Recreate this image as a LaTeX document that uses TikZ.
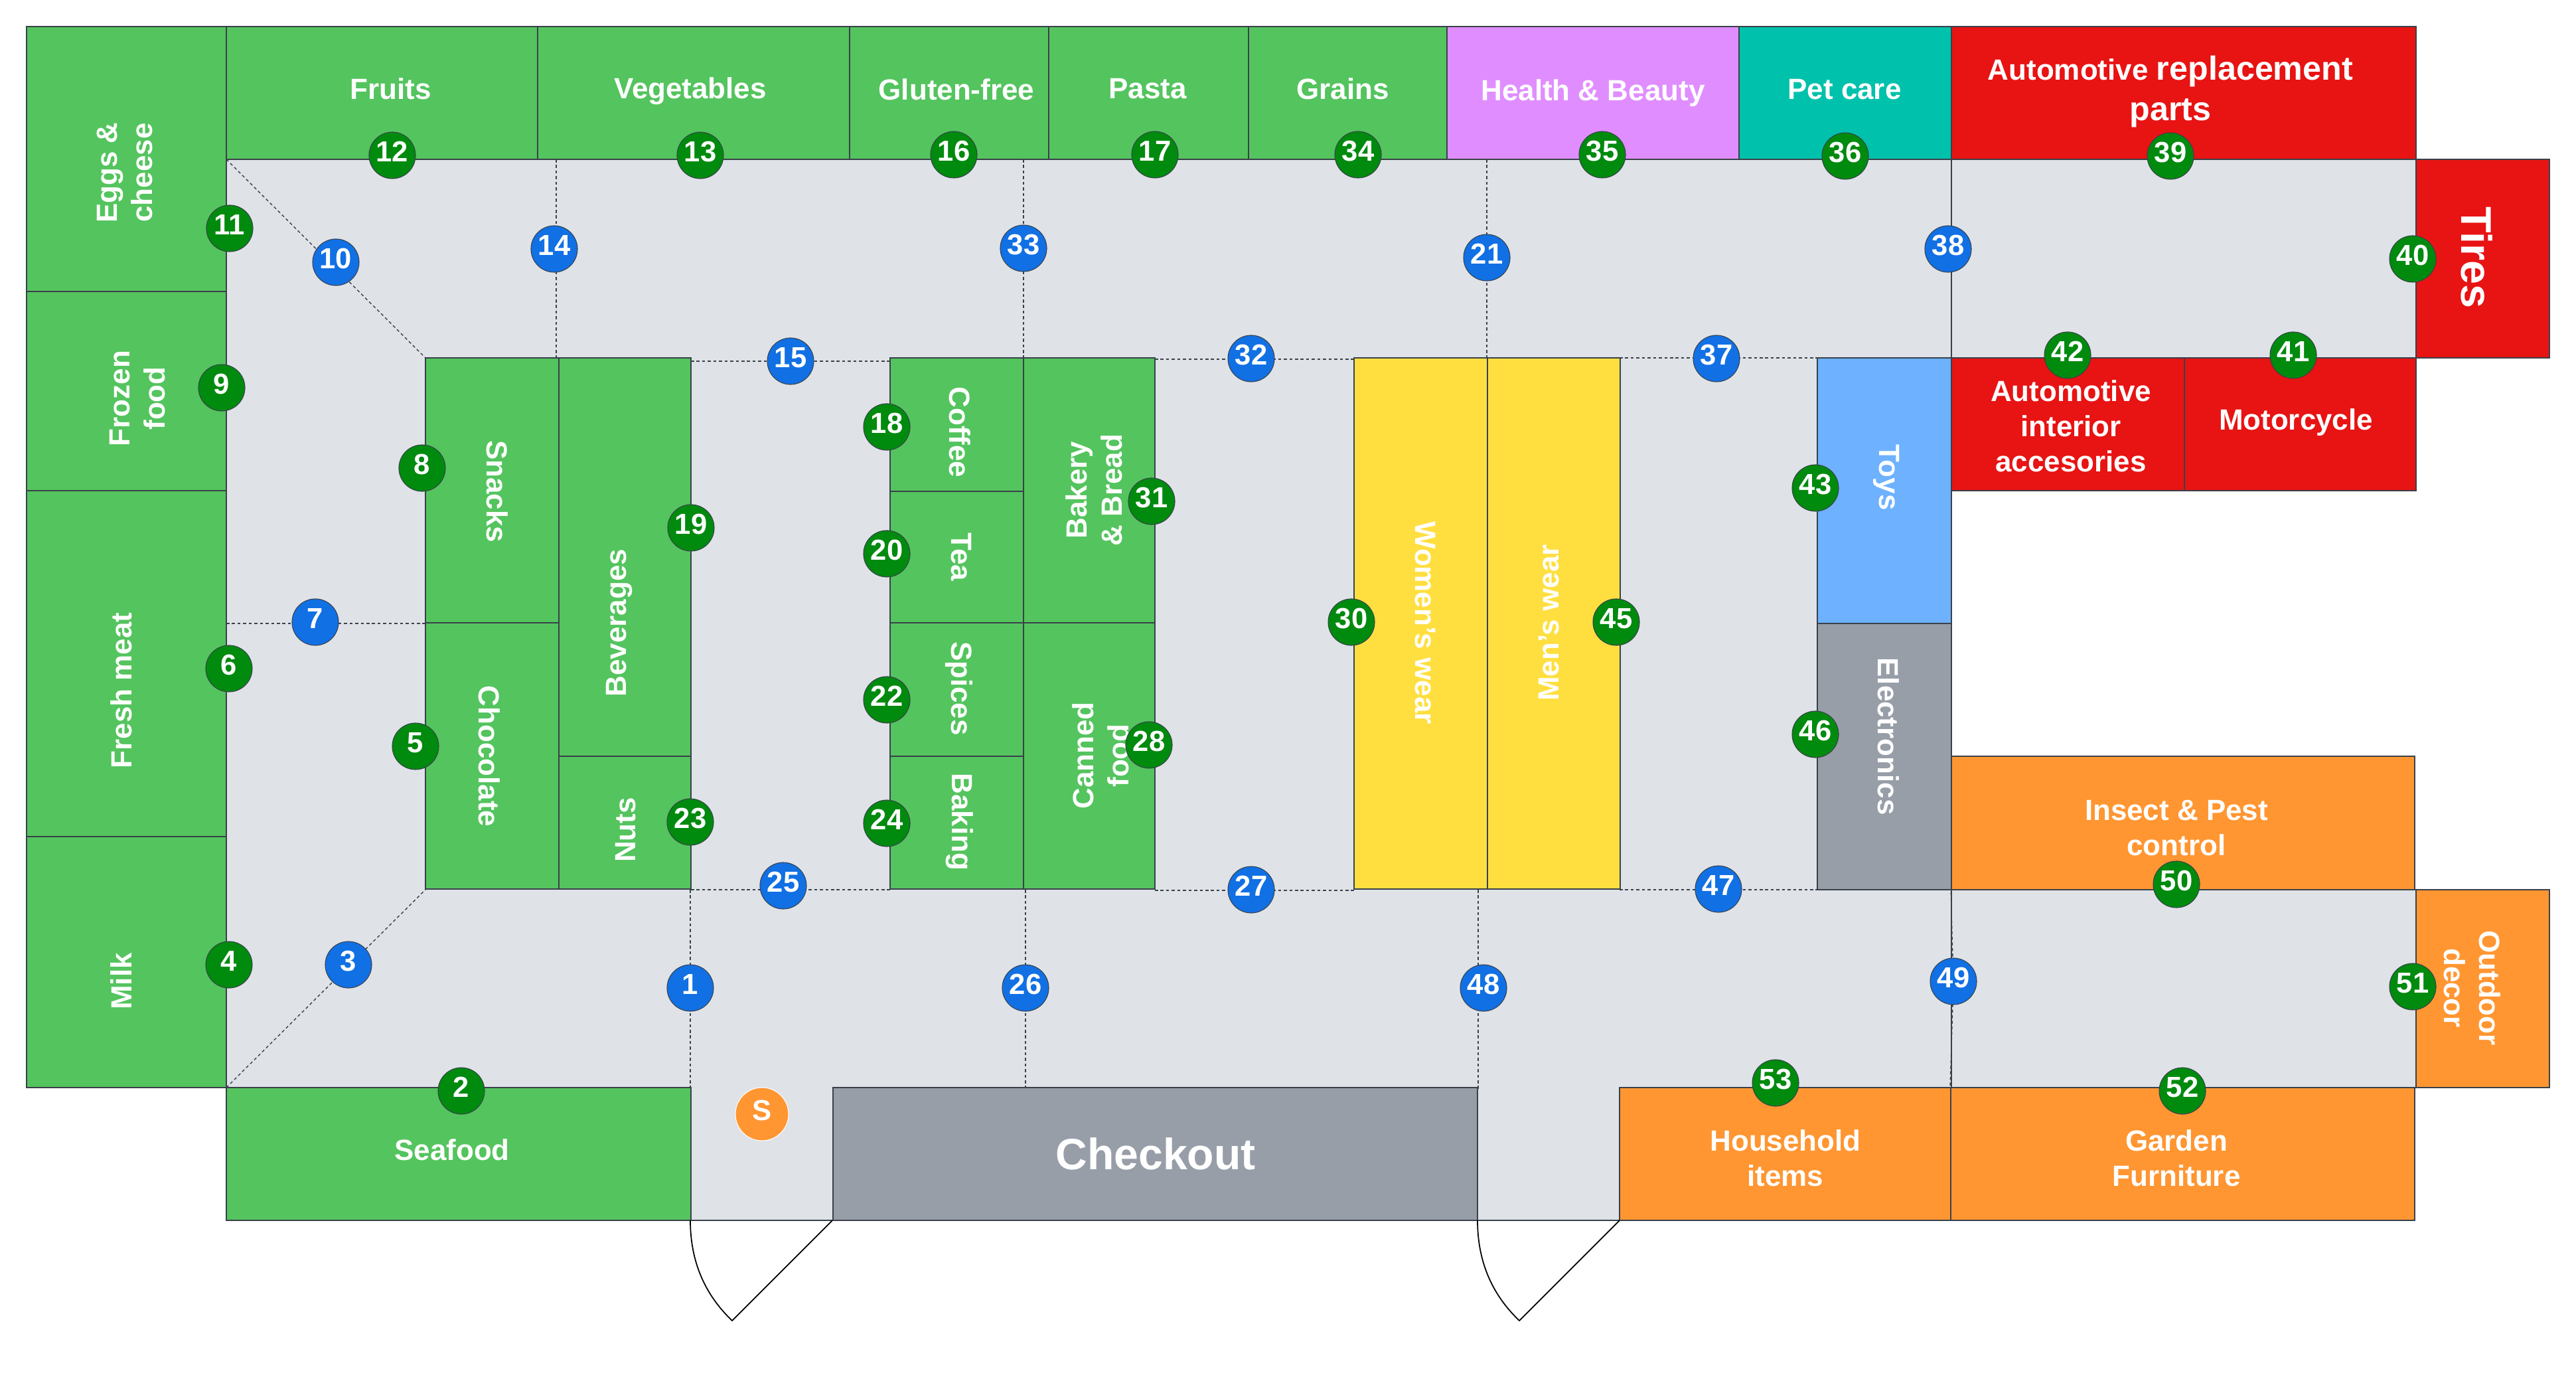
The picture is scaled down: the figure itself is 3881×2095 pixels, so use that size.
\documentclass[tikz,border=0pt]{standalone}
\usepackage{fontspec}
\setmainfont{Liberation Sans}
\definecolor{floorc}{HTML}{DFE3E8}
\definecolor{greenc}{HTML}{54C45E}
\definecolor{dgreen}{HTML}{008A0E}
\definecolor{bluec}{HTML}{1170E4}
\definecolor{redc}{HTML}{E81313}
\definecolor{tealc}{HTML}{00C1AC}
\definecolor{purpc}{HTML}{E08EFF}
\definecolor{yelc}{HTML}{FFDF40}
\definecolor{orgc}{HTML}{FF9632}
\definecolor{ltblue}{HTML}{6DB1FF}
\definecolor{grayc}{HTML}{979EA8}
\definecolor{linec}{HTML}{3A414A}
\tikzset{
  room/.style={draw=linec,line width=0.4pt},
  aisle/.style={draw=linec,line width=0.4pt,dash pattern=on 1.3pt off 1.1pt},
  lab/.style={text=white,align=center,inner sep=0pt,font=\fontsize{12.5}{15}\selectfont\bfseries},
  num/.style={circle,draw=linec,line width=0.3pt,minimum size=0.7cm,inner sep=0pt,text=white,text depth=0.11cm,font=\fontsize{12.4}{15}\selectfont\bfseries},
  sn/.style={num,fill=dgreen},
  bn/.style={num,fill=bluec},
  down/.style={rotate=-90},
  up/.style={rotate=90},
  door/.style={draw=black,line width=0.5pt}
}
\newcommand{\shelf}[5]{\fill[#1] (#2,#3) rectangle (#4,#5); \draw[room] (#2,#3) rectangle (#4,#5);}
\begin{document}
\begin{tikzpicture}[x=0.01cm,y=-0.01cm]
\useasboundingbox (0,0) rectangle (3881,2095);
% floor
\fill[floorc] (341,240) -- (3640,240) -- (3640,539) -- (2940,539) -- (2940,1340) -- (3640,1340) -- (3640,1640) -- (2940,1640) -- (2440,1640) -- (2440,1838) -- (1041,1838) -- (1041,1640) -- (341,1640) -- cycle;
\draw[room] (1041,1838) -- (2440,1838);
% dashed aisles
\draw[aisle] (341,240) -- (641,539);
\draw[aisle] (341,1638) -- (641,1340);
\draw[aisle] (341,939) -- (641,939);
\draw[aisle] (838,240) -- (838,539);
\draw[aisle] (1542,240) -- (1542,539);
\draw[aisle] (2240,240) -- (2240,539);
\draw[room] (2940,240) -- (2940,539);
\draw[aisle] (1041,544) -- (1341,544);
\draw[aisle] (1740,541) -- (2040,541);
\draw[aisle] (2440,539) -- (2738,539);
\draw[aisle] (1041,1340) -- (1341,1340);
\draw[aisle] (1740,1341) -- (2040,1341);
\draw[aisle] (2440,1340) -- (2738,1340);
\draw[aisle] (1040,1340) -- (1040,1640);
\draw[aisle] (1545,1340) -- (1545,1640);
\draw[aisle] (2227,1340) -- (2227,1640);
\draw[room] (2940,1340) -- (2940,1640);
\draw[aisle] (2939,1335) -- (2943,1478) -- (2938,1638);
% rooms
\shelf{greenc}{40}{40}{341}{439}
\shelf{greenc}{40}{439}{341}{739}
\shelf{greenc}{40}{739}{341}{1260}
\shelf{greenc}{40}{1260}{341}{1638}
\shelf{greenc}{341}{40}{810}{240}
\shelf{greenc}{810}{40}{1280}{240}
\shelf{greenc}{1280}{40}{1580}{240}
\shelf{greenc}{1580}{40}{1881}{240}
\shelf{greenc}{1881}{40}{2180}{240}
\shelf{purpc}{2180}{40}{2620}{240}
\shelf{tealc}{2620}{40}{2940}{240}
\shelf{redc}{2940}{40}{3640}{240}
\shelf{redc}{3640}{240}{3841}{539}
\shelf{redc}{2940}{539}{3291}{739}
\shelf{redc}{3291}{539}{3640}{739}
\shelf{ltblue}{2738}{539}{2940}{939}
\shelf{grayc}{2738}{939}{2940}{1340}
\shelf{orgc}{2940}{1139}{3638}{1340}
\shelf{orgc}{3640}{1340}{3841}{1638}
\shelf{orgc}{2939}{1638}{3638}{1838}
\shelf{orgc}{2440}{1638}{2939}{1838}
\shelf{grayc}{1255}{1638}{2226}{1838}
\shelf{greenc}{341}{1638}{1041}{1838}
\shelf{greenc}{641}{539}{842}{938}
\shelf{greenc}{641}{938}{842}{1339}
\shelf{greenc}{842}{539}{1041}{1139}
\shelf{greenc}{842}{1139}{1041}{1339}
\shelf{greenc}{1341}{539}{1542}{740}
\shelf{greenc}{1341}{740}{1542}{938}
\shelf{greenc}{1341}{938}{1542}{1139}
\shelf{greenc}{1341}{1139}{1542}{1339}
\shelf{greenc}{1542}{539}{1740}{938}
\shelf{greenc}{1542}{938}{1740}{1339}
\shelf{yelc}{2040}{539}{2241}{1339}
\shelf{yelc}{2241}{539}{2441}{1339}
% doors
\draw[door] (1040,1838) .. controls (1040,1900) and (1062,1950) .. (1103,1989) -- (1254,1838);
\draw[door] (2226,1838) .. controls (2226,1900) and (2248,1950) .. (2289,1989) -- (2440,1838);
% labels
\node[lab] (fruits) at (589,134) {Fruits};
\node[lab] (veg) at (1040,137) {Vegetables};
\node[lab] (gluten) at (1441,135) {Gluten-free};
\node[lab] (pasta) at (1729,134) {Pasta};
\node[lab] (grains) at (2023,134) {Grains};
\node[lab] (health) at (2400,140) {Health \& Beauty};
\node[lab] (pet) at (2779,135) {Pet care};
\node[lab,font=\fontsize{12.5}{17.4}\selectfont\bfseries] (autorep) at (3270,138) {Automotive {\fontsize{14.3}{17.4}\selectfont replacement}\\{\fontsize{14.3}{17.4}\selectfont parts}};
\node[lab,down,font=\fontsize{18.4}{22}\selectfont\bfseries] (tires) at (3732,388) {Tires};
\node[lab] (autoint) at (3120,642) {Automotive\\interior\\accesories};
\node[lab] (moto) at (3459,636) {Motorcycle};
\node[lab,down] (toys) at (2842,719) {Toys};
\node[lab,down] (elec) at (2845,1109) {Electronics};
\node[lab] (insect) at (3279,1247) {Insect \& Pest\\control};
\node[lab,down] (outdoor) at (3725,1488) {Outdoor\\decor};
\node[lab] (garden) at (3279,1744) {Garden\\Furniture};
\node[lab] (house) at (2690,1744) {Household\\items};
\node[lab,font=\fontsize{18.8}{22}\selectfont\bfseries] (checkout) at (1741,1738) {Checkout};
\node[lab] (seafood) at (681,1732) {Seafood};
\node[lab,up] (milk) at (183,1478) {Milk};
\node[lab,up] (meat) at (183,1040) {Fresh meat};
\node[lab,up] (frozen) at (207,600) {Frozen\\food};
\node[lab,up] (eggs) at (188,260) {Eggs \&\\cheese};
\node[lab,down] (snacks) at (749,740) {Snacks};
\node[lab,down] (choc) at (737,1139) {Chocolate};
\node[lab,up] (bev) at (933,938) {Beverages};
\node[lab,up] (nuts) at (943,1250) {Nuts};
\node[lab,down] (coffee) at (1446,651) {Coffee};
\node[lab,down] (tea) at (1448,839) {Tea};
\node[lab,down] (spices) at (1445,1037) {Spices};
\node[lab,down] (baking) at (1446,1238) {Baking};
\node[lab,up] (bakery) at (1648,738) {Bakery\\\& Bread};
\node[lab,up] (canned) at (1658,1138) {Canned\\food};
\node[lab,down] (women) at (2147,938) {Women's wear};
\node[lab,up] (men) at (2334,938) {Men's wear};
% markers
\node[num,fill=orgc,draw=white,minimum size=0.8cm] (s) at (1148,1678) {S};
\node[bn] (n1) at (1040,1488) {1};
\node[sn] (n2) at (695,1643) {2};
\node[bn] (n3) at (525,1453) {3};
\node[sn] (n4) at (345,1453) {4};
\node[sn] (n5) at (626,1124) {5};
\node[sn] (n6) at (345,1007) {6};
\node[bn] (n7) at (475,937) {7};
\node[sn] (n8) at (636,705) {8};
\node[sn] (n9) at (334,584) {9};
\node[bn] (n10) at (506,395) {10};
\node[sn] (n11) at (346,344) {11};
\node[sn] (n12) at (591,234) {12};
\node[sn] (n13) at (1055,234) {13};
\node[bn] (n14) at (835,375) {14};
\node[bn] (n15) at (1191,544) {15};
\node[sn] (n16) at (1437,233) {16};
\node[sn] (n17) at (1740,233) {17};
\node[sn] (n18) at (1336,643) {18};
\node[sn] (n19) at (1041,795) {19};
\node[sn] (n20) at (1336,834) {20};
\node[bn] (n21) at (2240,388) {21};
\node[sn] (n22) at (1336,1054) {22};
\node[sn] (n23) at (1040,1238) {23};
\node[sn] (n24) at (1336,1240) {24};
\node[bn] (n25) at (1180,1334) {25};
\node[bn] (n26) at (1545,1488) {26};
\node[bn] (n27) at (1885,1340) {27};
\node[sn] (n28) at (1731,1122) {28};
\node[sn] (n30) at (2036,937) {30};
\node[sn] (n31) at (1735,755) {31};
\node[bn] (n32) at (1885,540) {32};
\node[bn] (n33) at (1542,374) {33};
\node[sn] (n34) at (2046,233) {34};
\node[sn] (n35) at (2414,233) {35};
\node[sn] (n36) at (2780,235) {36};
\node[bn] (n37) at (2586,540) {37};
\node[bn] (n38) at (2935,375) {38};
\node[sn] (n39) at (3270,235) {39};
\node[sn] (n40) at (3635,390) {40};
\node[sn] (n41) at (3455,535) {41};
\node[sn] (n42) at (3115,535) {42};
\node[sn] (n43) at (2735,735) {43};
\node[sn] (n45) at (2435,937) {45};
\node[sn] (n46) at (2735,1106) {46};
\node[bn] (n47) at (2589,1339) {47};
\node[bn] (n48) at (2235,1488) {48};
\node[bn] (n49) at (2943,1478) {49};
\node[sn] (n50) at (3279,1332) {50};
\node[sn] (n51) at (3635,1486) {51};
\node[sn] (n52) at (3288,1643) {52};
\node[sn] (n53) at (2675,1631) {53};
\end{tikzpicture}
\end{document}
